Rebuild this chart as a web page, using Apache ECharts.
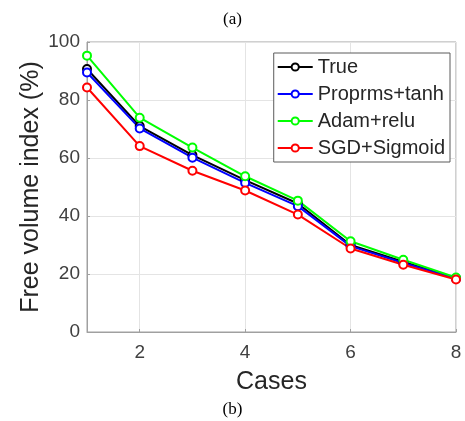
<!DOCTYPE html>
<html>
<head>
<meta charset="utf-8">
<script src="https://cdn.jsdelivr.net/npm/echarts@6/dist/echarts.min.js"></script>
<style>
  html, body { margin: 0; padding: 0; background: #fff; }
  #chart { width: 465px; height: 421px; }
</style>
</head>
<body>
<div id="chart"></div>
<script>
// Free volume index for each case, per optimiser/activation pairing
const cases = [1, 2, 3, 4, 5, 6, 7, 8];
const trueValues    = [90.7, 71.0, 61.0, 52.4, 44.3, 30.0, 24.2, 18.5];
const proprmsTanh   = [89.5, 70.2, 60.1, 51.4, 43.4, 29.6, 23.8, 18.4];
const adamRelu      = [95.3, 73.9, 63.6, 53.7, 45.3, 31.3, 24.9, 18.8];
const sgdSigmoid    = [84.3, 64.1, 55.6, 48.8, 40.5, 28.8, 23.2, 18.1];
const xTicks = [2, 4, 6, 8];

const seriesDefs = [
  { name: 'True', color: '#000000', values: trueValues },
  { name: 'Proprms+tanh', color: '#0000ff', values: proprmsTanh },
  { name: 'Adam+relu', color: '#00ff00', values: adamRelu },
  { name: 'SGD+Sigmoid', color: '#ff0000', values: sgdSigmoid }
];

const textColor = '#262626';
const tickColor = '#404040';
const font = 'Liberation Sans, Arial, sans-serif';
const serif = 'Liberation Serif, Times New Roman, serif';

const chart = echarts.init(document.getElementById('chart'), null, { renderer: 'canvas' });

chart.setOption({
  animation: false,
  backgroundColor: '#ffffff',
  title: [
    { text: '(a)', left: 'center', top: 6,
      textStyle: { fontFamily: serif, fontSize: 17, fontWeight: 'normal', color: '#000' } },
    { text: '(b)', left: 'center', top: 396,
      textStyle: { fontFamily: serif, fontSize: 17, fontWeight: 'normal', color: '#000' } }
  ],
  grid: {
    left: 87, right: 9, top: 42, bottom: 89,
    show: true, borderColor: '#a0a0a0', borderWidth: 1, backgroundColor: '#ffffff'
  },
  legend: {
    orient: 'vertical',
    right: 15, top: 53,
    itemWidth: 35, itemHeight: 9, itemGap: 7,
    padding: [4, 5, 4, 3],
    backgroundColor: '#ffffff',
    borderColor: '#5a5a5a', borderWidth: 1,
    textStyle: { fontFamily: font, fontSize: 20, color: textColor },
    data: seriesDefs.map(s => s.name)
  },
  xAxis: {
    type: 'value',
    min: 1, max: 8,
    name: 'Cases',
    nameLocation: 'middle',
    nameGap: 38,
    nameMoveOverlap: false,
    nameTextStyle: { fontFamily: font, fontSize: 25, color: textColor },
    axisLine: { show: true, lineStyle: { color: '#a0a0a0' } },
    axisTick: { show: true, inside: true, length: 3, customValues: xTicks, lineStyle: { color: '#a0a0a0' } },
    axisLabel: { customValues: xTicks, fontFamily: font, fontSize: 19, color: tickColor, margin: 11 },
    splitLine: { show: true, lineStyle: { color: '#e4e4e4' } }
  },
  yAxis: {
    type: 'value',
    min: 0, max: 100, interval: 20,
    name: 'Free volume index (%)',
    nameLocation: 'middle',
    nameGap: 43,
    nameMoveOverlap: false,
    nameTextStyle: { fontFamily: font, fontSize: 25, color: textColor },
    axisLine: { show: true, lineStyle: { color: '#a0a0a0' } },
    axisTick: { show: true, inside: true, length: 3, lineStyle: { color: '#a0a0a0' } },
    axisLabel: { fontFamily: font, fontSize: 19, color: tickColor, margin: 7 },
    splitLine: { show: true, lineStyle: { color: '#e4e4e4' } }
  },
  series: seriesDefs.map(s => ({
    name: s.name,
    type: 'line',
    data: cases.map((c, i) => [c, s.values[i]]),
    color: s.color,
    symbol: 'circle',
    symbolSize: 8,
    showAllSymbol: true,
    lineStyle: { color: s.color, width: 2 },
    itemStyle: { color: '#ffffff', borderColor: s.color, borderWidth: 2 }
  }))
});
</script>
</body>
</html>
